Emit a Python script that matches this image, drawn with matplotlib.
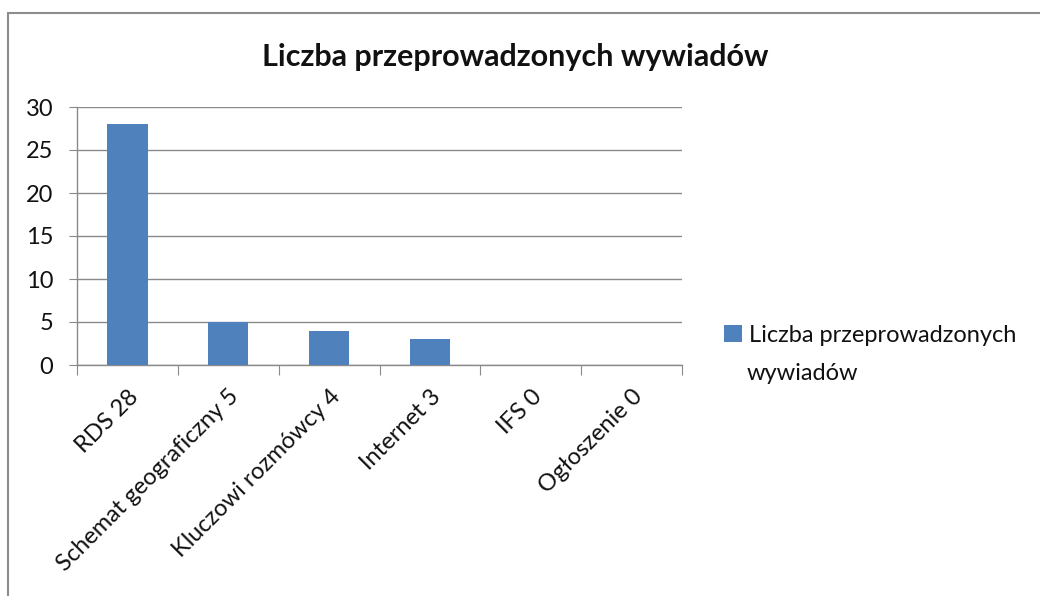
import matplotlib

matplotlib.use("Agg")
import matplotlib.pyplot as plt
from matplotlib.patches import Rectangle
import numpy as np

TITLE = "Liczba przeprowadzonych wywiadów"
SERIES = ["Liczba przeprowadzonych", "wywiadów"]
categories = ["RDS 28", "Schemat geograficzny 5", "Kluczowi rozmówcy 4",
              "Internet 3", "IFS 0", "Ogłoszenie 0"]
values = [28, 5, 4, 3, 0, 0]
yticks = [0, 5, 10, 15, 20, 25, 30]

BLUE = "#4f81bd"
GRID = "#8a8a8a"
TXT = "#111111"
W, H = 1040, 596
FS = 17

plt.rcParams["font.family"] = ["Lato", "DejaVu Sans"]

fig = plt.figure(figsize=(W / 100, H / 100), dpi=100)
ax = fig.add_axes([77 / W, 1 - 365 / H, (682 - 77) / W, (365 - 107) / H])

x = np.arange(len(categories))
bars = ax.bar(x, values, width=0.4, color=BLUE, zorder=3)

ax.set_xlim(-0.5, len(categories) - 0.5)
ax.set_ylim(0, 30)
ax.set_yticks(yticks)
ax.yaxis.grid(True, color=GRID, lw=1, zorder=0)
ax.tick_params(axis="y", length=6, color=GRID, labelsize=FS, pad=11, labelcolor=TXT)

# tick marks on category boundaries, labels on category centers
ax.set_xticks(np.arange(len(categories) + 1) - 0.5)
ax.set_xticklabels([])
ax.tick_params(axis="x", which="major", length=7, color=GRID)
ax.set_xticks(x, minor=True)
ax.set_xticklabels(categories, minor=True, rotation=45, ha="right",
                   rotation_mode="anchor", fontsize=FS, color=TXT)
ax.tick_params(axis="x", which="minor", length=0, pad=15)

for side in ("top", "right"):
    ax.spines[side].set_visible(False)
for side in ("left", "bottom"):
    ax.spines[side].set_color(GRID)
    ax.spines[side].set_linewidth(1)

fig.text(515 / W, 1 - 57 / H, TITLE, ha="center", va="center",
         fontsize=22, fontweight="bold", color=TXT)

ax.legend(handles=[bars], labels=[SERIES[0]], loc="center left",
          bbox_to_anchor=(724 / W, 1 - 335 / H), bbox_transform=fig.transFigure,
          frameon=False, fontsize=FS, handlelength=0.75, handleheight=0.75,
          handletextpad=0.3, borderaxespad=0, borderpad=0, labelcolor=TXT)
fig.text(747 / W, 1 - 374 / H, SERIES[1], ha="left", va="center",
         fontsize=FS, color=TXT)

fig.patches.append(Rectangle((8 / W, -0.1), 1.2, (H - 13) / H + 0.1,
                             transform=fig.transFigure, fill=False,
                             edgecolor="#8c8c8c", lw=1.5))

fig.savefig("out.png", dpi=100)
